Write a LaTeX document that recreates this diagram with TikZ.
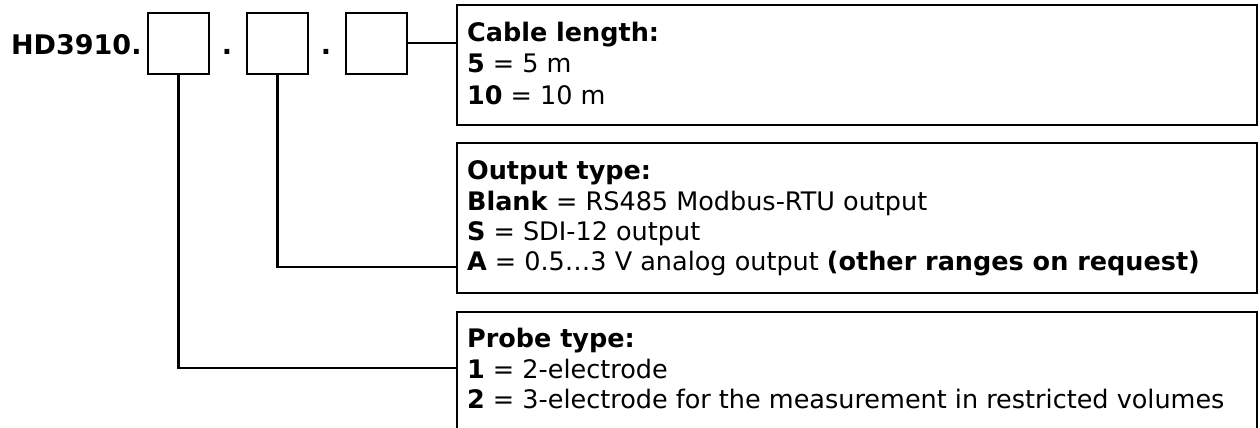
\documentclass[tikz,border=0pt]{standalone}
\usepackage{fontspec}
\setmainfont{DejaVu Sans}
\begin{document}
\begin{tikzpicture}[x=1pt,y=-1pt,line width=2.2pt,
  cell/.style={draw, minimum width=61pt, minimum height=61pt, inner sep=0pt, outer sep=0pt, anchor=north west},
  infobox/.style={draw, minimum width=800pt, inner sep=0pt, outer sep=0pt, anchor=north west},
  txt/.style={anchor=base west, inner sep=0pt, font=\fontsize{25.5}{30}\selectfont},
  big/.style={inner sep=0pt, font=\fontsize{27}{30}\selectfont\bfseries},
  wire/.style={line width=2.2pt}]
\useasboundingbox (0,0) rectangle (1260,428);
\clip (0,0) rectangle (1260,428);
% code
\node[big, anchor=base west] (code) at (10,55) {HD3910.};
\node[cell] (c1) at (148,13) {};
\node[big, anchor=base] (d1) at (227,55) {.};
\node[cell] (c2) at (247,13) {};
\node[big, anchor=base] (d2) at (326,55) {.};
\node[cell] (c3) at (346,13) {};
% info boxes
\node[infobox, minimum height=120pt] (cable) at (457,5) {};
\node[infobox, minimum height=150pt] (output) at (457,143) {};
\node[infobox, minimum height=150pt] (probe) at (457,312) {};
% texts
\node[txt] (t1) at (466,42) {\textbf{Cable length:}};
\node[txt] (t2) at (466,73) {\textbf{5} = 5 m};
\node[txt] (t3) at (466,104) {\textbf{10} = 10 m};
\node[txt] (o1) at (466,179) {\textbf{Output type:}};
\node[txt] (o2) at (466,210) {\textbf{Blank} = RS485 Modbus-RTU output};
\node[txt] (o3) at (466,240) {\textbf{S} = SDI-12 output};
\node[txt] (o4) at (466,270) {\textbf{A} = 0.5…3 V analog output \textbf{(other ranges on request)}};
\node[txt] (p1) at (466,347) {\textbf{Probe type:}};
\node[txt] (p2) at (466,378) {\textbf{1} = 2-electrode};
\node[txt] (p3) at (466,408) {\textbf{2} = 3-electrode for the measurement in restricted volumes};
% connectors
\coordinate (cablepin) at (457,43);
\coordinate (outpin) at (457,267);
\coordinate (probepin) at (457,368);
\draw[wire] (c3.east |- cablepin) -- (cablepin);
\draw[wire] (c2.south) |- (outpin);
\draw[wire] (c1.south) |- (probepin);
\end{tikzpicture}
\end{document}
